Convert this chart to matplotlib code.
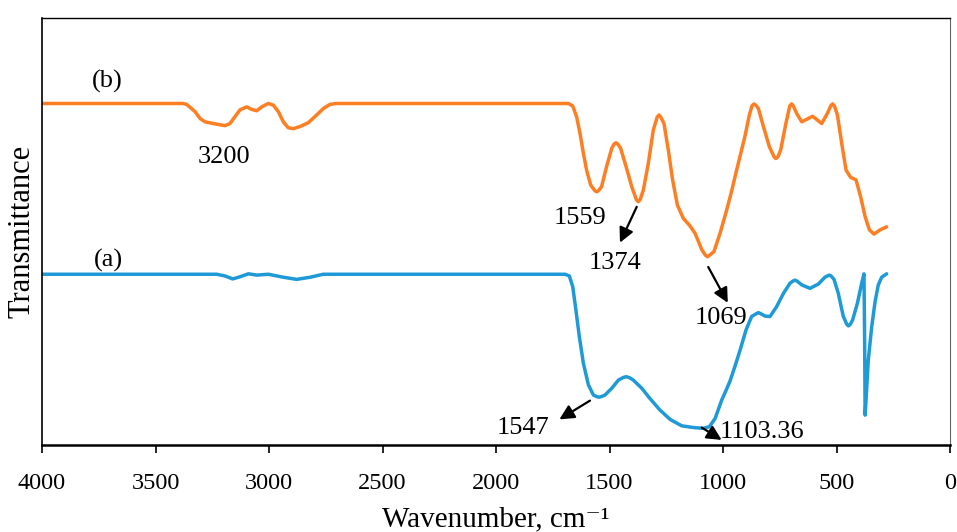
import matplotlib
matplotlib.use('Agg')
import matplotlib.pyplot as plt

# FTIR spectra, transmittance in arbitrary units (curves offset vertically)
wn_b = [4000, 3380, 3363, 3326, 3304, 3282, 3245, 3194, 3172, 3150,
        3128, 3098, 3076, 3054, 3032, 3003, 2981, 2959, 2937, 2915,
        2893, 2863, 2827, 2790, 2761, 2731, 2702, 1681, 1662, 1645,
        1630, 1615, 1601, 1583, 1565, 1557, 1548, 1535, 1513, 1490,
        1480, 1471, 1462, 1451, 1427, 1402, 1381, 1373, 1365, 1351,
        1329, 1307, 1290, 1282, 1274, 1260, 1241, 1222, 1201, 1175,
        1148, 1123, 1094, 1078, 1069, 1058, 1040, 1013, 984, 962,
        940, 903, 884, 872, 863, 854, 844, 822, 796, 775,
        767, 758, 746, 723, 706, 698, 690, 676, 653, 631,
        605, 584, 565, 540, 525, 517, 509, 496, 477, 458,
        438, 414, 394, 374, 355, 335, 308, 279]
t_b = [80.0, 80.0, 79.8, 78.1, 76.5, 75.7, 75.3, 74.8, 75.3, 76.9,
       78.5, 79.2, 78.6, 78.3, 79.2, 80.0, 79.6, 78.1, 75.7, 74.3,
       74.1, 74.6, 75.5, 77.3, 78.8, 79.8, 80.0, 80.0, 79.4, 76.9,
       73.0, 68.3, 64.4, 60.9, 59.6, 59.3, 59.6, 60.5, 65.2, 69.5,
       70.5, 70.8, 70.4, 69.5, 65.2, 60.5, 57.4, 57.0, 57.5, 59.7,
       66.0, 73.8, 76.8, 77.3, 76.8, 75.3, 69.1, 62.1, 56.2, 53.1,
       51.5, 49.6, 45.8, 44.5, 44.1, 44.5, 45.3, 49.6, 55.0, 59.5,
       64.4, 72.4, 77.3, 79.5, 79.9, 79.5, 78.8, 74.6, 69.9, 67.5,
       67.1, 67.5, 69.1, 75.3, 79.4, 79.9, 79.4, 77.7, 75.7, 76.3,
       77.0, 76.1, 75.3, 77.7, 79.5, 79.9, 79.4, 77.3, 70.6, 64.4,
       62.7, 62.1, 58.2, 53.5, 50.4, 49.4, 50.4, 51.1]

wn_a = [4000, 3231, 3194, 3160, 3128, 3091, 3054, 3003, 2937, 2878,
        2819, 2761, 2673, 1696, 1677, 1662, 1648, 1633, 1615, 1593,
        1571, 1555, 1545, 1533, 1520, 1490, 1461, 1440, 1427, 1413,
        1395, 1358, 1322, 1278, 1233, 1182, 1131, 1087, 1060, 1035,
        1006, 985, 969, 947, 925, 899, 874, 852, 844, 835,
        815, 793, 764, 734, 705, 692, 683, 674, 653, 617,
        580, 551, 540, 532, 524, 511, 492, 470, 455, 448,
        440, 429, 408, 389, 379, 376, 374, 370, 360, 345,
        330, 316, 301, 279]
t_a = [40.0, 40.0, 39.6, 38.9, 39.4, 40.1, 39.8, 40.0, 39.3, 38.8,
       39.3, 40.0, 40.0, 40.0, 39.6, 37.1, 31.6, 25.4, 19.1, 14.1,
       11.7, 11.3, 11.2, 11.4, 11.7, 13.3, 15.2, 15.8, 16.0, 15.8,
       15.2, 13.3, 10.9, 8.2, 6.0, 4.5, 4.1, 3.9, 4.3, 6.2,
       10.5, 13.0, 15.0, 18.5, 22.2, 26.9, 30.1, 30.8, 31.0, 30.8,
       30.2, 30.1, 32.4, 35.5, 37.9, 38.4, 38.6, 38.4, 37.5, 36.7,
       37.7, 39.3, 39.6, 39.8, 39.6, 38.8, 35.5, 30.1, 28.3, 27.9,
       28.2, 29.3, 33.2, 37.9, 40.1, 23.8, 7.0, 10.5, 19.9, 27.7,
       33.6, 37.5, 39.3, 40.1]

x_ticks = [4000, 3500, 3000, 2500, 2000, 1500, 1000, 500, 0]

# peak labels: (text, text x, text y, arrow tail, arrow tip)
peak_notes = [
    ('1374', 1476, 42.7, (1380, 55.8), (1454, 47.4)),
    ('1069', 1010, 29.7, (1065, 41.7), (979, 33.3)),
    ('1547', 1881, 4.0, (1586, 10.4), (1721, 6.0)),
]
plain_notes = [('3200', 3198, 67.5), ('1559', 1630, 53.1),
               ('(b)', 3714, 85.1), ('(a)', 3709, 43.2)]

plt.rcParams['font.family'] = ['Liberation Serif', 'DejaVu Serif']

fig = plt.figure(figsize=(9.57, 5.32), dpi=100)
ax = fig.add_axes([0.0439, 0.1635, 0.9488, 0.8025])

ax.plot(wn_b, t_b, color='#FD7E23', lw=2.5, solid_joinstyle='round',
        solid_capstyle='round')
ax.plot(wn_a, t_a, color='#1E9AD6', lw=2.5, solid_joinstyle='round',
        solid_capstyle='round')

for txt, x, y in plain_notes:
    ax.text(x, y, txt, fontsize=19, ha='center', va='center')

arrow = dict(arrowstyle='-|>', color='black', lw=1.6, mutation_scale=22,
             shrinkA=0, shrinkB=0)
for txt, x, y, tail, tip in peak_notes:
    ax.text(x, y, txt, fontsize=19, ha='center', va='center')
    ax.annotate('', xy=tip, xytext=tail, arrowprops=arrow)

# 1103.36 label sits right of its arrow
ax.annotate('', xy=(1006, 1.2), xytext=(1094, 4.1), arrowprops=arrow)
ax.text(1013, 3.1, '1103.36', fontsize=19, ha='left', va='center')

ax.set_xlim(4000, 0)
ax.set_ylim(0, 100)
ax.set_xticks(x_ticks)
ax.set_xticklabels([str(v) for v in x_ticks])
ax.set_yticks([])
ax.tick_params(axis='x', direction='out', length=6, width=1.2, pad=14,
               labelsize=17.5)

ax.spines['bottom'].set_linewidth(1.8)
ax.spines['left'].set_linewidth(1.2)
ax.spines['top'].set_linewidth(1.0)
ax.spines['right'].set_linewidth(0.8)
ax.spines['right'].set_color('#666666')

ax.set_xlabel('Wavenumber, cm\u207b\u00b9', fontsize=21, labelpad=9)
ax.set_ylabel('Transmittance', fontsize=22, labelpad=4)

fig.savefig('out.png', dpi=100)
